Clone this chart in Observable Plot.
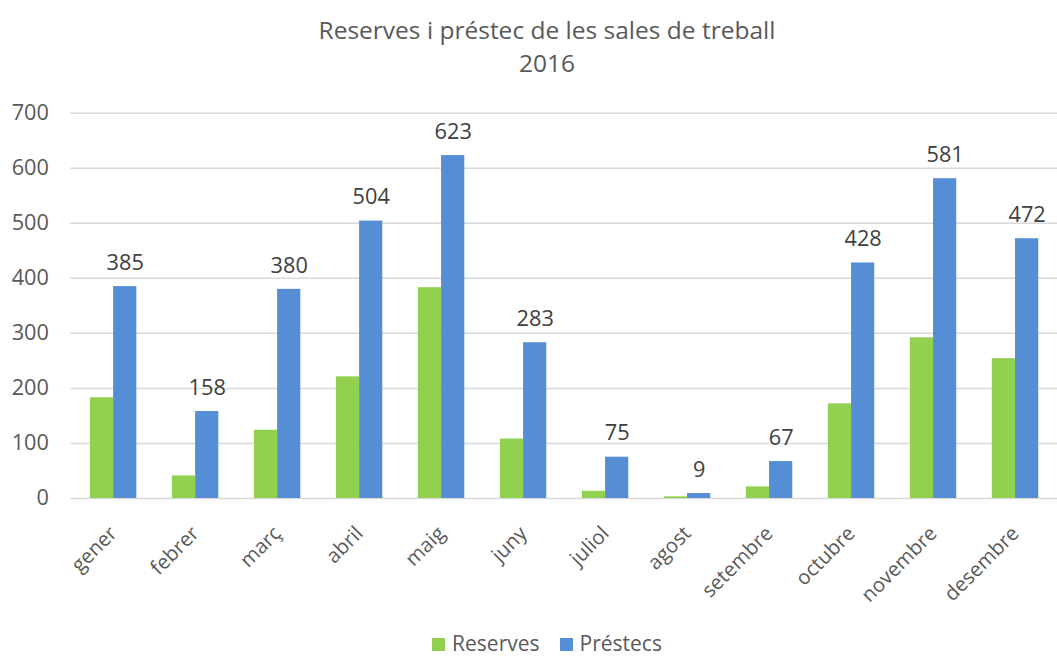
<!DOCTYPE html>
<html>
<head>
<meta charset="utf-8">
<script src="https://cdn.jsdelivr.net/npm/d3@7"></script>
<script src="https://cdn.jsdelivr.net/npm/@observablehq/plot@0.6"></script>
<style>
  html, body { margin: 0; padding: 0; background: #fff; overflow: hidden; width: 1057px; height: 658px; }
  body { position: relative; font-family: "Open Sans", sans-serif; }
  #title { position: absolute; left: 0; top: 13px; width: 1094px; text-align: center; font-size: 24.5px; line-height: 33px; color: #595959; }
  #chart { position: absolute; left: 0; top: 90px; }
  #legend { position: absolute; left: 0; top: 629px; width: 1094px; text-align: center; font-size: 21px; color: #595959; line-height: 28px; height: 28px; }
  .sw { display: inline-block; width: 13px; height: 13px; margin-right: 7px; vertical-align: 0px; }
  .item { display: inline-block; margin: 0 10px; }
</style>
</head>
<body>
<div id="title">Reserves i préstec de les sales de treball<br>2016</div>
<div id="chart"></div>
<div id="legend"></div>
<script>
const months = ["gener","febrer","març","abril","maig","juny","juliol","agost","setembre","octubre","novembre","desembre"];
const reserves = [183, 41, 124, 221, 383, 108, 13, 3, 21, 172, 292, 254];
const prestecs = [385, 158, 380, 504, 623, 283, 75, 9, 67, 428, 581, 472];
const seriesNames = ["Reserves", "Préstecs"];
const seriesColors = ["#92D050", "#558ED5"];
const yTicks = [0, 100, 200, 300, 400, 500, 600, 700];

const resData = months.map((m, i) => ({month: m, value: reserves[i], series: seriesNames[0]}));
const preData = months.map((m, i) => ({month: m, value: prestecs[i], series: seriesNames[1]}));

const W = 1070, ML = 71, MR = 0;
const padInner = 0.435, padOuter = 0.217;
const step = (W - ML - MR) / (months.length - padInner + 2 * padOuter);
const half = step * (1 - padInner) / 2;

const chart = Plot.plot({
  width: W,
  height: 540,
  marginLeft: ML,
  marginRight: MR,
  marginTop: 23,
  marginBottom: 127,
  style: {fontFamily: "'Open Sans', sans-serif", color: "#595959", background: "transparent"},
  x: {domain: months, paddingInner: padInner, paddingOuter: padOuter, label: null},
  y: {domain: [0, 700], label: null},
  color: {domain: seriesNames, range: seriesColors},
  marks: [
    Plot.ruleY(yTicks, {stroke: "#d9d9d9", strokeWidth: 1.5}),
    Plot.barY(resData, {x: "month", y: "value", fill: "series", insetRight: half}),
    Plot.barY(preData, {x: "month", y: "value", fill: "series", insetLeft: half}),
    Plot.text(preData, {x: "month", y: "value", text: d => String(d.value), dx: half / 2, dy: -24, fontSize: 22, fill: "#404040"}),
    Plot.axisY({ticks: yTicks, tickSize: 0, tickPadding: 22, fontSize: 22, fill: "#595959", label: null}),
    Plot.axisX({tickSize: 0, tickRotate: -45, tickPadding: 32, fontSize: 20.5, fill: "#595959", label: null})
  ]
});
document.getElementById("chart").appendChild(chart);

const legend = document.getElementById("legend");
seriesNames.forEach((name, i) => {
  const item = document.createElement("span");
  item.className = "item";
  const sw = document.createElement("span");
  sw.className = "sw";
  sw.style.background = seriesColors[i];
  item.appendChild(sw);
  item.appendChild(document.createTextNode(name));
  legend.appendChild(item);
});
</script>
</body>
</html>
